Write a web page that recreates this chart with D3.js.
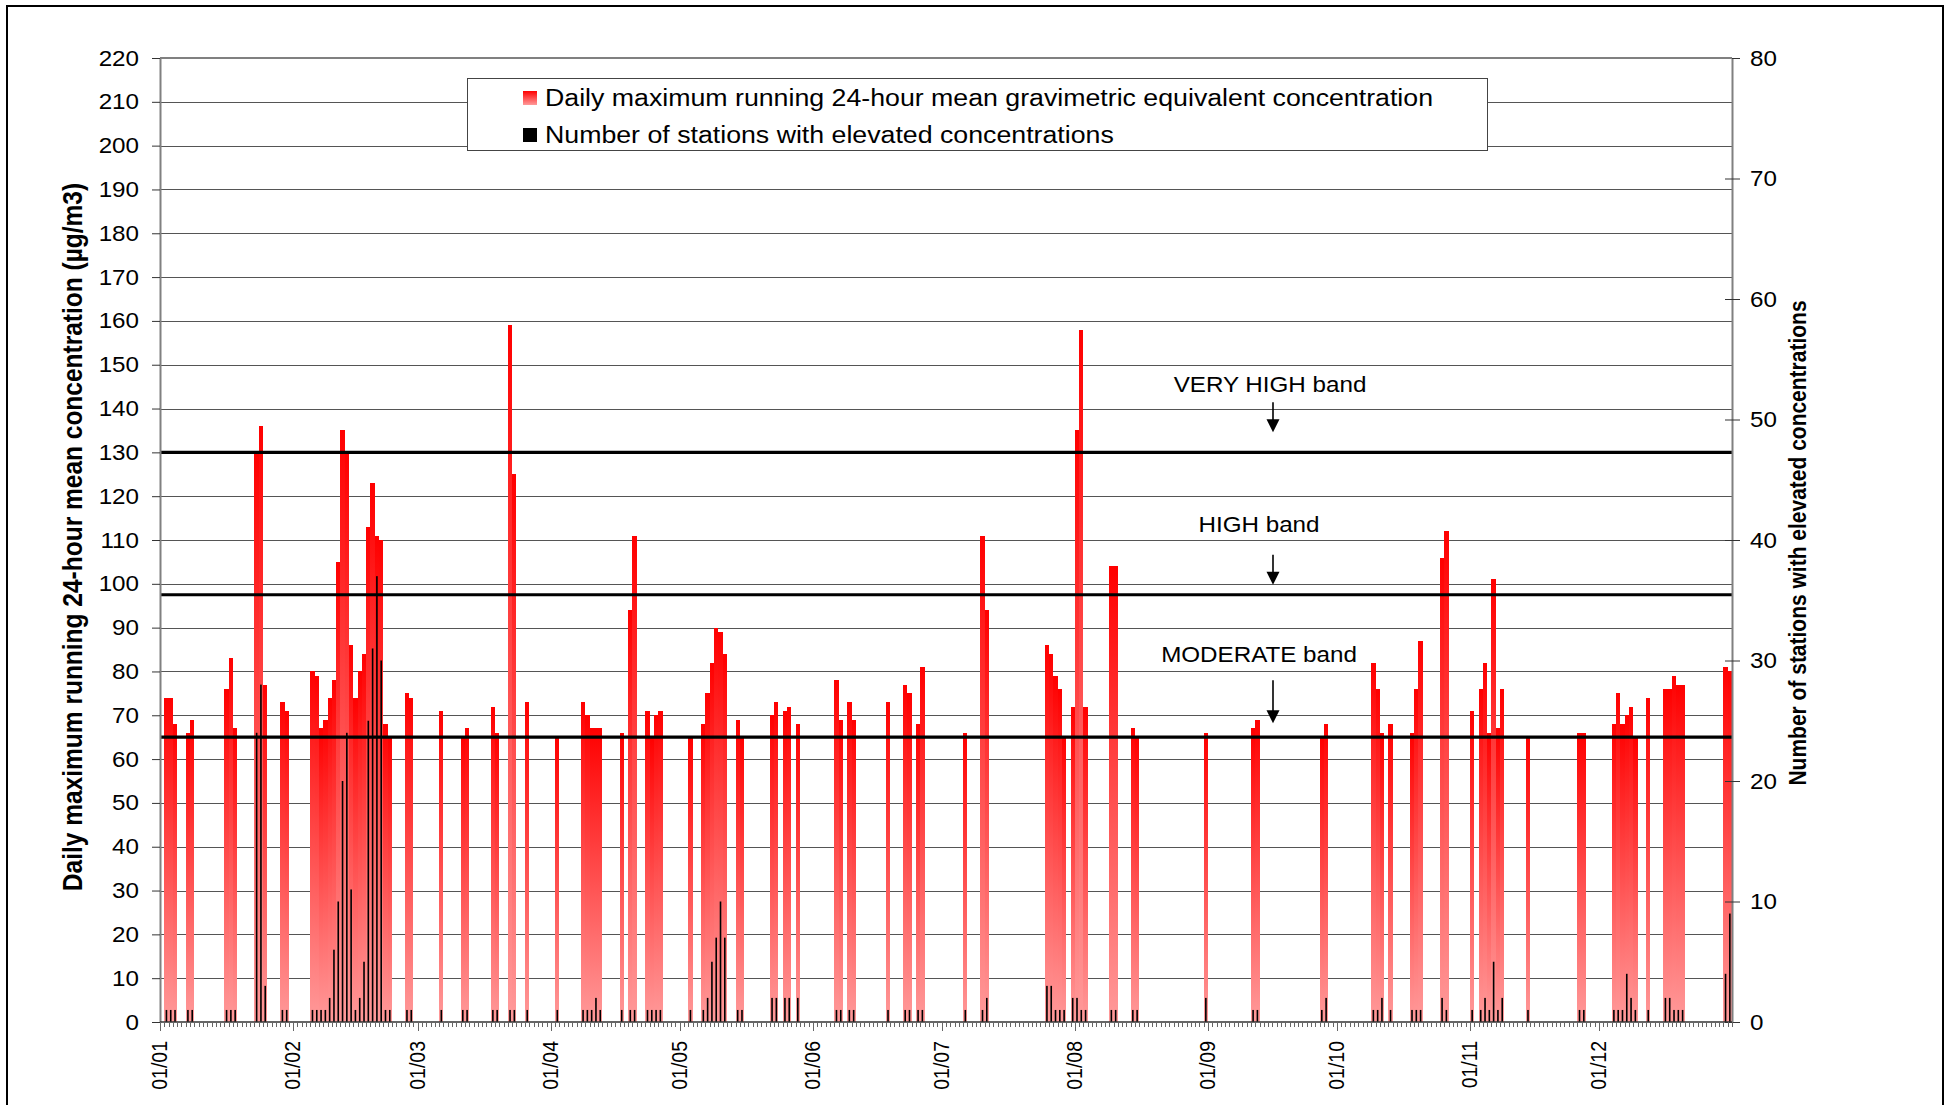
<!DOCTYPE html>
<html>
<head>
<meta charset="utf-8">
<script src="https://cdn.jsdelivr.net/npm/d3@7"></script>
<style>
  html, body { margin: 0; padding: 0; background: #fff; }
  svg { display: block; font-family: "Liberation Sans", Arial, sans-serif; }
</style>
</head>
<body>
<svg id="chart" width="1950" height="1105"></svg>
<script>
// ── Data (day index within a 366-day year, 0 = 1 Jan) ──
const eventDay = [
  1, 2, 3, 6, 7, 15, 16, 17, 22, 23, 24, 28, 29,
  35, 36, 37, 38, 39, 40, 41, 42, 43, 44, 45, 46, 47, 48, 49, 50, 51, 52, 53, 57, 58,
  65, 70, 71, 77, 78, 81, 82, 85,
  92, 98, 99, 100, 101, 102, 107, 109, 110, 113, 114, 115, 116,
  123, 126, 127, 128, 129, 130, 131, 134, 135, 142, 143, 145, 146, 148,
  157, 158, 160, 161, 169, 173, 174, 176, 177,
  187, 191, 192, 206, 207, 208, 209, 210,
  212, 213, 214, 215, 221, 222, 226, 227,
  243, 254, 255, 270, 271,
  282, 283, 284, 286, 291, 292, 293, 298, 299,
  305, 307, 308, 309, 310, 311, 312, 318,
  330, 331, 338, 339, 340, 341, 342, 343, 346, 350, 351, 352, 353, 354, 364, 365
];
const concentration = [
  74, 74, 68, 66, 69, 76, 83, 67, 130, 136, 77, 73, 71,
  80, 79, 67, 69, 74, 78, 105, 135, 130, 86, 74, 80, 84, 113, 123, 111, 110, 68, 65, 75, 74,
  71, 65, 67, 72, 66, 159, 125, 73,
  65, 73, 70, 67, 67, 67, 66, 94, 111, 71, 65, 70, 71,
  65, 68, 75, 82, 90, 89, 84, 69, 65, 70, 73, 71, 72, 68,
  78, 69, 73, 69, 73, 77, 75, 68, 81,
  66, 111, 94, 86, 84, 79, 76, 65,
  72, 135, 158, 72, 104, 104, 67, 65,
  66, 67, 69, 65, 68,
  82, 76, 66, 68, 66, 76, 87, 106, 112,
  71, 76, 82, 66, 101, 67, 76, 65,
  66, 66, 68, 75, 68, 70, 72, 65, 74, 76, 76, 79, 77, 77, 81, 80
];
const stationCount = [
  1, 1, 1, 1, 1, 1, 1, 1, 24, 28, 3, 1, 1,
  1, 1, 1, 1, 2, 6, 10, 20, 24, 11, 1, 2, 5, 25, 31, 37, 30, 1, 1, 1, 1,
  1, 1, 1, 1, 1, 1, 1, 1,
  1, 1, 1, 1, 2, 1, 1, 1, 1, 1, 1, 1, 1,
  1, 1, 2, 5, 7, 10, 7, 1, 1, 2, 2, 2, 2, 2,
  1, 1, 1, 1, 1, 1, 1, 1, 1,
  1, 1, 2, 3, 3, 1, 1, 1,
  2, 2, 1, 1, 1, 1, 1, 1,
  2, 1, 1, 1, 2,
  1, 1, 2, 1, 1, 1, 1, 2, 1,
  1, 1, 2, 1, 5, 1, 2, 1,
  1, 1, 1, 1, 1, 4, 2, 1, 1, 2, 2, 1, 1, 1, 4, 9
];
const daysInYear = 366;
const monthStartDay = [0, 31, 60, 91, 121, 152, 182, 213, 244, 274, 305, 335];
const monthLabels = ['01/01', '01/02', '01/03', '01/04', '01/05', '01/06',
                     '01/07', '01/08', '01/09', '01/10', '01/11', '01/12'];
const leftTicks = [0, 10, 20, 30, 40, 50, 60, 70, 80, 90, 100, 110,
                   120, 130, 140, 150, 160, 170, 180, 190, 200, 210, 220];
const rightTicks = [0, 10, 20, 30, 40, 50, 60, 70, 80];
const bandLevels = [130, 97.5, 65];
const bandLabels = ['VERY HIGH band', 'HIGH band', 'MODERATE band'];
const legendLabels = [
  'Daily maximum running 24-hour mean gravimetric equivalent concentration',
  'Number of stations with elevated concentrations'
];
const leftTitle = 'Daily maximum running 24-hour mean concentration (µg/m3)';
const rightTitle = 'Number of stations with elevated concentrations';

// ── Layout ──
const P = { left: 160, right: 1732, top: 58, bottom: 1022 };
const SX = 1.1;   // the reference text is slightly wide

const svg = d3.select('#chart');
const x = d3.scaleLinear().domain([0, daysInYear]).range([P.left, P.right]);
const y = d3.scaleLinear().domain([0, 220]).range([P.bottom, P.top]);
const y2 = d3.scaleLinear().domain([0, 80]).range([P.bottom, P.top]);

const rows = eventDay.map(function(d, i) {
  return { day: d, conc: concentration[i], count: stationCount[i] };
});

function label(g, px, py, str, o) {
  o = o || {};
  return g.append('text')
    .attr('transform', 'translate(' + px + ',' + py + ') scale(' + SX + ',1)' +
      (o.rotate ? ' rotate(' + o.rotate + ')' : ''))
    .attr('text-anchor', o.anchor || 'start')
    .attr('dominant-baseline', o.baseline || 'auto')
    .attr('font-size', o.size || 22)
    .attr('font-weight', o.weight || 'normal')
    .attr('fill', '#000')
    .text(str);
}

// ── Gradient for the concentration bars ──
const grad = svg.append('defs').append('linearGradient')
  .attr('id', 'redFade').attr('x1', 0).attr('y1', 0).attr('x2', 0).attr('y2', 1);
grad.append('stop').attr('offset', '0%').attr('stop-color', '#ff0000');
grad.append('stop').attr('offset', '100%').attr('stop-color', '#ff9a9a');

// ── Outer frame ──
svg.append('rect')
  .attr('x', 7).attr('y', 6).attr('width', 1936).attr('height', 1130)
  .attr('fill', 'none').attr('stroke', '#000').attr('stroke-width', 2);

// ── Gridlines ──
svg.append('g').selectAll('line').data(leftTicks.filter(function(v) { return v > 0; })).join('line')
  .attr('x1', P.left).attr('x2', P.right)
  .attr('y1', function(d) { return Math.round(y(d)) + 0.5; })
  .attr('y2', function(d) { return Math.round(y(d)) + 0.5; })
  .attr('stroke', '#555').attr('stroke-width', 1);

// ── Concentration bars ──
svg.append('g').selectAll('rect').data(rows).join('rect')
  .attr('x', function(d) { return x(d.day); })
  .attr('width', function(d) { return x(d.day + 1) - x(d.day); })
  .attr('y', function(d) { return y(d.conc); })
  .attr('height', function(d) { return y(0) - y(d.conc); })
  .attr('fill', 'url(#redFade)')
  .attr('shape-rendering', 'crispEdges');

// ── Station count bars (right axis) ──
svg.append('g').selectAll('rect').data(rows).join('rect')
  .attr('x', function(d) { return x(d.day + 0.5) - 0.8; })
  .attr('width', 1.6)
  .attr('y', function(d) { return y2(d.count); })
  .attr('height', function(d) { return y2(0) - y2(d.count); })
  .attr('fill', '#000');

// ── Band threshold lines ──
svg.append('g').selectAll('line').data(bandLevels).join('line')
  .attr('x1', P.left).attr('x2', P.right)
  .attr('y1', function(d) { return y(d); }).attr('y2', function(d) { return y(d); })
  .attr('stroke', '#000').attr('stroke-width', 3.2);

// ── Left axis ──
const gl = svg.append('g').attr('transform', 'translate(' + P.left + ',0)')
  .call(d3.axisLeft(y).tickValues(leftTicks).tickSize(8).tickSizeOuter(0));
gl.select('.domain').attr('stroke', '#808080').attr('stroke-width', 2);
gl.selectAll('.tick line').attr('stroke', '#333');
gl.selectAll('.tick text')
  .attr('x', -21 / SX).attr('transform', 'scale(' + SX + ',1)')
  .attr('font-size', 22).attr('font-family', null).attr('fill', '#000');

// ── Right axis ──
const gr = svg.append('g').attr('transform', 'translate(' + P.right + ',0)')
  .call(d3.axisRight(y2).tickValues(rightTicks).tickSize(8).tickSizeOuter(0));
gr.select('.domain').attr('stroke', '#808080').attr('stroke-width', 2);
gr.selectAll('.tick line').attr('stroke', '#333');
gr.selectAll('.tick').append('line').attr('x1', -7).attr('x2', 0).attr('stroke', '#333');
gr.selectAll('.tick text')
  .attr('x', 18 / SX).attr('transform', 'scale(' + SX + ',1)')
  .attr('font-size', 22).attr('font-family', null).attr('fill', '#000');

// ── Plot top edge ──
svg.append('line').attr('x1', P.left).attr('x2', P.right)
  .attr('y1', P.top).attr('y2', P.top).attr('stroke', '#808080').attr('stroke-width', 2);

// ── X axis: a tick per day, longer ticks and labels at month starts ──
const gx = svg.append('g').attr('transform', 'translate(0,' + P.bottom + ')');
gx.append('line').attr('x1', P.left).attr('x2', P.right)
  .attr('stroke', '#333').attr('stroke-width', 1.5);
gx.selectAll('line.day').data(d3.range(0, daysInYear + 1)).join('line')
  .attr('class', 'day')
  .attr('x1', function(d) { return Math.round(x(d)) + 0.5; })
  .attr('x2', function(d) { return Math.round(x(d)) + 0.5; })
  .attr('y1', 0)
  .attr('y2', function(d) { return monthStartDay.indexOf(d) >= 0 ? 9 : 5; })
  .attr('stroke', '#666').attr('stroke-width', 1);
monthStartDay.forEach(function(d, i) {
  label(gx, x(d) + 1.5, 19, monthLabels[i],
    { rotate: -90, anchor: 'end', baseline: 'middle', size: 19.5 });
});

// ── Axis titles ──
label(svg, 75, 537, leftTitle, { rotate: -90, anchor: 'middle', baseline: 'middle', size: 24.5, weight: 'bold' });
label(svg, 1800, 543, rightTitle, { rotate: -90, anchor: 'middle', baseline: 'middle', size: 21, weight: 'bold' });

// ── Band annotations: text and arrow above each threshold line ──
const noteX = 1273;
const noteOffsets = [
  { text: 60, top: 50, tip: 20, cx: 1270 },
  { text: 63, top: 40, tip: 10, cx: 1259 },
  { text: 75, top: 57, tip: 14, cx: 1259 }
];
const notes = svg.append('g');
bandLevels.forEach(function(v, i) {
  const ly = y(v), o = noteOffsets[i];
  label(notes, o.cx, ly - o.text, bandLabels[i], { anchor: 'middle', size: 22 });
  notes.append('line').attr('x1', noteX).attr('x2', noteX)
    .attr('y1', ly - o.top).attr('y2', ly - o.tip - 10)
    .attr('stroke', '#000').attr('stroke-width', 1.6);
  notes.append('path')
    .attr('d', 'M' + (noteX - 6.5) + ',' + (ly - o.tip - 13) + 'L' + (noteX + 6.5) + ',' + (ly - o.tip - 13) +
      'L' + noteX + ',' + (ly - o.tip) + 'Z')
    .attr('fill', '#000');
});

// ── Legend ──
const lg = svg.append('g');
lg.append('rect').attr('x', 467.5).attr('y', 78.5).attr('width', 1020).attr('height', 72)
  .attr('fill', '#fff').attr('stroke', '#444').attr('stroke-width', 1);
lg.append('rect').attr('x', 523).attr('y', 91).attr('width', 14).attr('height', 14)
  .attr('fill', 'url(#redFade)');
lg.append('rect').attr('x', 523).attr('y', 128).attr('width', 14).attr('height', 14)
  .attr('fill', '#000');
label(lg, 545, 106, legendLabels[0], { size: 24.3 });
label(lg, 545, 143, legendLabels[1], { size: 24.3 });
</script>
</body>
</html>
